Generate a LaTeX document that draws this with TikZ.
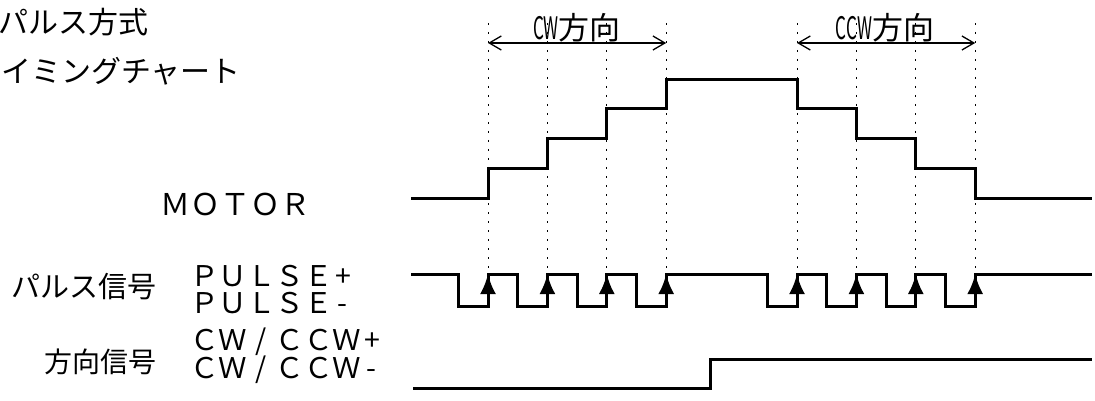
\documentclass[tikz,border=0pt]{standalone}
\usepackage{fontspec}
\setmainfont{Noto Sans CJK JP}
\newfontfamily\narrowfont[FakeStretch=0.55]{Noto Sans CJK JP}
\usetikzlibrary{arrows.meta}
\tikzset{
  sig/.style={line width=3pt, line join=miter},
  guide/.style={line width=1pt, dash pattern=on 2pt off 7pt},
  span/.style={line width=1.3pt, {Straight Barb[length=12pt,width=14pt]}-{Straight Barb[length=12pt,width=14pt]}},
  rise/.style={line width=3pt, -{Latex[length=20pt,width=16pt]}},
  lbl/.style={inner sep=0pt, anchor=west}
}
\newcommand\slashcell{\makebox[1em]{/}}
\begin{document}
\begin{tikzpicture}[x=1pt,y=-1pt]
\useasboundingbox (0,0) rectangle (1095,401);
\def\ea{488};   % first CW edge
\def\eb{797};   % first CCW edge
\def\dg{59.4};  % edge spacing
\def\dl{29.7};  % motor step
\def\mb{198};   % motor base
\def\hi{274};   % pulse high
\def\lo{306};   % pulse low
\def\hw{29.7};  % pulse low width
%title
\node[lbl] (title1) at (-2,22) {\fontsize{30}{36}\selectfont パルス方式};
\node[lbl] (title2) at (1,71) {\fontsize{30}{36}\selectfont イミングチャート};
%guides
\foreach\s in {0,1,2,3} {
  \draw[guide] (\ea+\s*\dg,23) -- (\ea+\s*\dg,\hi);
  \draw[guide] (\eb+\s*\dg,23) -- (\eb+\s*\dg,\hi);
}
%spans
\node (cw) at (577,28) {\fontsize{31}{34}\selectfont{\narrowfont CW}方向};
\node (ccw) at (885,28) {\fontsize{31}{34}\selectfont{\narrowfont CCW}方向};
\draw[span] (\ea,43) -- (\ea+3*\dg,43);
\draw[span] (\eb,43) -- (\eb+3*\dg,43);
%motor
\node[lbl] (motor) at (160,204) {\fontsize{30}{36}\selectfont ＭＯＴＯＲ};
\draw[sig] (411,\mb)
  \foreach\s in {0,1,2,3} { -- (\ea+\s*\dg,\mb-\s*\dl) -- (\ea+\s*\dg,\mb-\s*\dl-\dl) }
  \foreach\s in {0,1,2,3} { -- (\eb+\s*\dg,\mb-4*\dl+\s*\dl) -- (\eb+\s*\dg,\mb-3*\dl+\s*\dl) }
  -- (1092,\mb);
%pulse
\node[lbl] (pulsejp) at (11,287) {\fontsize{29}{34}\selectfont パルス信号};
\node[lbl] (pulsep) at (190,276) {\fontsize{28.5}{32}\selectfont ＰＵＬＳＥ\hspace{3pt}+};
\node[lbl] (pulsem) at (190,303) {\fontsize{28.5}{32}\selectfont ＰＵＬＳＥ\hspace{5pt}-};
\draw[sig] (411,\hi)
  \foreach\e in {\ea,\eb} { \foreach\s in {0,1,2,3} {
    -- (\e+\s*\dg-\hw,\hi) -- (\e+\s*\dg-\hw,\lo) -- (\e+\s*\dg,\lo) -- (\e+\s*\dg,\hi) -- (\e+\s*\dg+\hw,\hi) } }
  -- (1092,\hi);
\foreach\e in {\ea,\eb} {
  \foreach\s in {0,1,2,3} {
    \draw[rise] (\e+\s*\dg,\lo) -- (\e+\s*\dg,\hi);
  }
}
%direction
\node[lbl] (dirjp) at (44,362) {\fontsize{28}{34}\selectfont 方向信号};
\node[lbl] (dirp) at (190,342) {\fontsize{28.5}{32}\selectfont ＣＷ\slashcell ＣＣＷ\hspace{3pt}+};
\node[lbl] (dirm) at (190,370) {\fontsize{28.5}{32}\selectfont ＣＷ\slashcell ＣＣＷ\hspace{5pt}-};
\draw[sig] (413,388) -- (710,388) -- (710,359) -- (1092,359);
\end{tikzpicture}
\end{document}
